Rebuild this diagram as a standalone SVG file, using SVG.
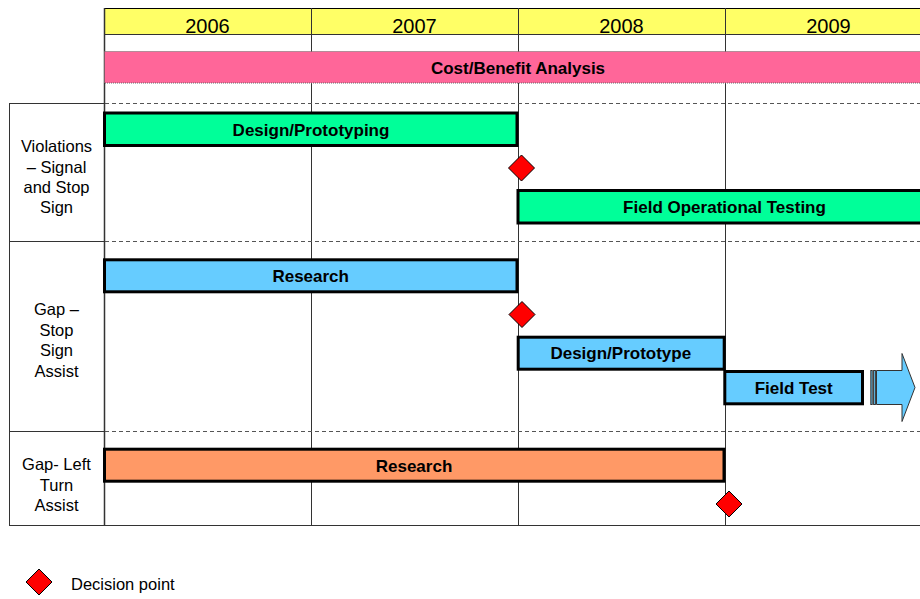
<svg xmlns="http://www.w3.org/2000/svg" width="920" height="599" viewBox="0 0 920 599">
<defs>
<style>
.grid{stroke:#333;stroke-width:1;fill:none}
.dash{stroke:#555;stroke-width:1;stroke-dasharray:4 3;fill:none}
.bar{stroke:#000;stroke-width:3}
.bt{font-family:"Liberation Sans",Arial,sans-serif;font-weight:bold;font-size:17px;text-anchor:middle;fill:#000}
.lbl{font-family:"Liberation Sans",Arial,sans-serif;font-size:16.5px;text-anchor:middle;fill:#000}
.yr{font-family:"Liberation Sans",Arial,sans-serif;font-size:20px;text-anchor:middle;fill:#000}
.dp{fill:#f00;stroke:#000;stroke-width:1}
.blue{fill:#66CCFF}
</style>
</defs>
<rect width="920" height="599" fill="#fff"/>
<g id="header">
<rect x="104" y="8" width="816" height="26" fill="#FFFF66"/>
<line class="grid" x1="104" y1="8.5" x2="920" y2="8.5" style="stroke:#000"/>
<line class="grid" x1="104" y1="34.5" x2="920" y2="34.5"/>
<text class="yr" x="207.5" y="33">2006</text>
<text class="yr" x="414.5" y="33">2007</text>
<text class="yr" x="621.5" y="33">2008</text>
<text class="yr" x="828.5" y="33">2009</text>
</g>
<g id="grid">
<line class="grid" x1="104.5" y1="8" x2="104.5" y2="525" style="stroke-width:1.5"/>
<line class="grid" x1="311.5" y1="8" x2="311.5" y2="525"/>
<line class="grid" x1="518.5" y1="8" x2="518.5" y2="525"/>
<line class="grid" x1="725.5" y1="8" x2="725.5" y2="525"/>
<line class="grid" x1="9.5" y1="103" x2="9.5" y2="525"/>
<line class="grid" x1="9" y1="103.5" x2="104" y2="103.5"/>
<line class="grid" x1="9" y1="241.5" x2="104" y2="241.5"/>
<line class="grid" x1="9" y1="431.5" x2="104" y2="431.5"/>
<line class="grid" x1="9" y1="525.5" x2="920" y2="525.5"/>
<line class="dash" x1="105" y1="103.5" x2="920" y2="103.5"/>
<line class="dash" x1="105" y1="241.5" x2="920" y2="241.5"/>
<line class="dash" x1="105" y1="431.5" x2="920" y2="431.5"/>
</g>
<g id="labels">
<text class="lbl" x="56.5" y="152">Violations</text>
<text class="lbl" x="56.5" y="172.5">– Signal</text>
<text class="lbl" x="56.5" y="193">and Stop</text>
<text class="lbl" x="56.5" y="213">Sign</text>
<text class="lbl" x="56.5" y="315">Gap –</text>
<text class="lbl" x="56.5" y="335.5">Stop</text>
<text class="lbl" x="56.5" y="356">Sign</text>
<text class="lbl" x="56.5" y="376.5">Assist</text>
<text class="lbl" x="56.5" y="470">Gap- Left</text>
<text class="lbl" x="56.5" y="490.5">Turn</text>
<text class="lbl" x="56.5" y="511">Assist</text>
</g>
<g id="cost-benefit">
<rect x="104.5" y="51.5" width="817" height="31.5" fill="#FF6699" stroke="#666" stroke-width="1" stroke-dasharray="1 1"/>
<text class="bt" x="518" y="74">Cost/Benefit Analysis</text>
</g>
<g id="design-prototyping">
<rect class="bar" x="104.5" y="113" width="412.5" height="32.5" fill="#00FF99"/>
<text class="bt" x="311" y="135.5">Design/Prototyping</text>
</g>
<g id="field-operational-testing">
<rect class="bar" x="518" y="190.5" width="420" height="32.5" fill="#00FF99"/>
<text class="bt" x="724.5" y="212.5">Field Operational Testing</text>
</g>
<g id="research-stop">
<rect class="bar blue" x="104.5" y="259.8" width="412.5" height="32"/>
<text class="bt" x="310.7" y="281.7">Research</text>
</g>
<g id="design-prototype">
<rect class="bar blue" x="518.2" y="337.2" width="206" height="32"/>
<text class="bt" x="620.8" y="359.3">Design/Prototype</text>
</g>
<g id="field-test">
<rect class="bar blue" x="724.8" y="371.5" width="137.7" height="32.3"/>
<text class="bt" x="793.7" y="393.5">Field Test</text>
</g>
<g id="continue-arrow">
<rect x="870.8" y="370.5" width="1.4" height="34" fill="#66CCFF" stroke="#333" stroke-width="1"/>
<rect x="873.6" y="370.5" width="1.8" height="34" fill="#66CCFF" stroke="#333" stroke-width="1"/>
<polygon points="876.5,370.5 902,370.5 902,353.5 915,387.5 902,421.5 902,404.5 876.5,404.5" fill="#66CCFF" stroke="#333" stroke-width="1"/>
</g>
<g id="research-left">
<rect class="bar" x="104.5" y="449.2" width="619.5" height="32" fill="#FF9966"/>
<text class="bt" x="414" y="471.5">Research</text>
</g>
<g id="decision-points">
<polygon class="dp" points="521.5,155 534.5,168 521.5,181 508.5,168"/>
<polygon class="dp" points="522,301.5 535,314.5 522,327.5 509,314.5"/>
<polygon class="dp" points="729,491 742,504 729,517 716,504"/>
</g>
<g id="legend">
<polygon class="dp" points="39,569 52,582 39,595 26,582"/>
<text class="lbl" x="71" y="590" style="text-anchor:start">Decision point</text>
</g>
</svg>
